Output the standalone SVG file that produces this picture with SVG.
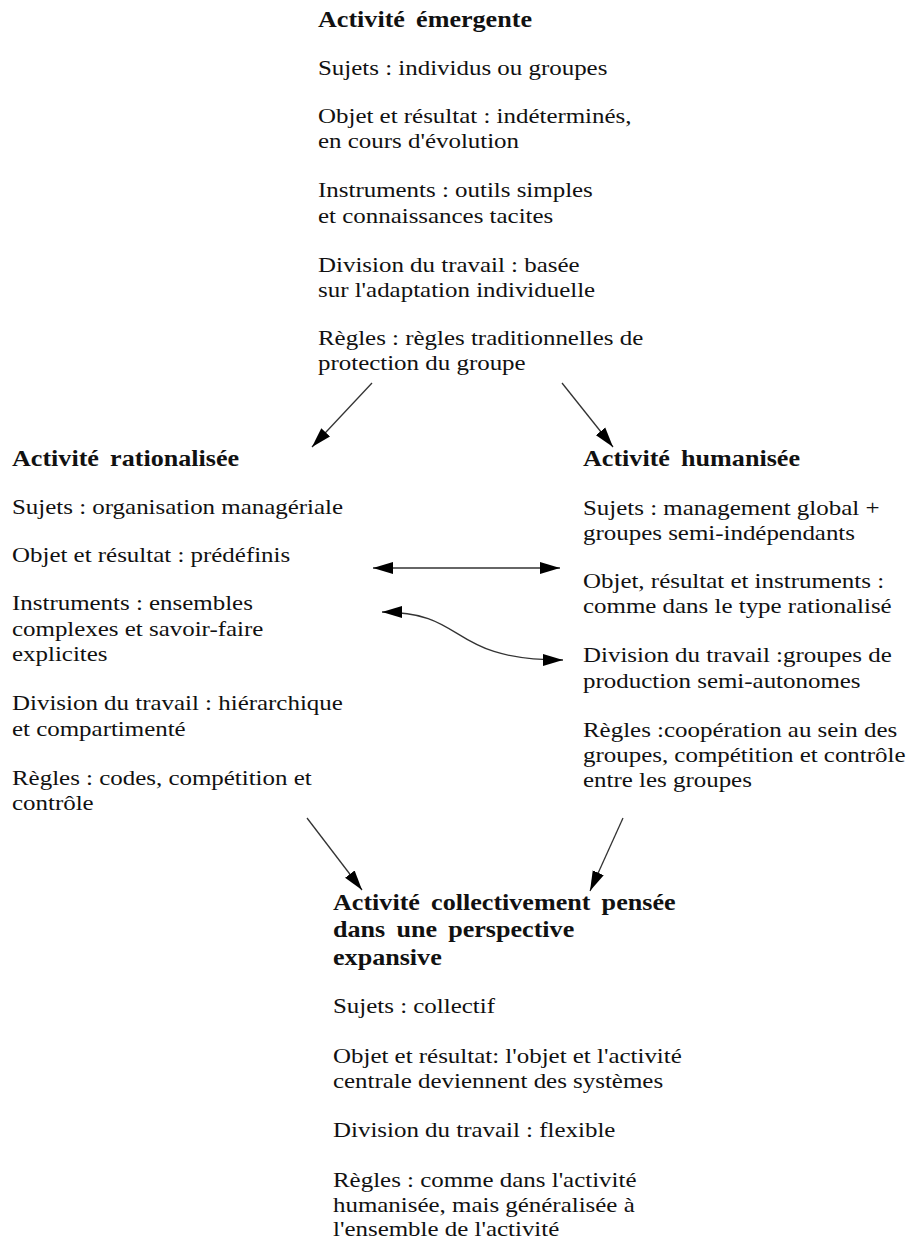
<svg xmlns="http://www.w3.org/2000/svg" width="907" height="1239" viewBox="0 0 907 1239">
<defs>
<style>
text{font-family:"Liberation Serif","Times New Roman",serif;fill:#111;}
.t{font-size:22.5px;font-weight:bold;word-spacing:4px;}
.b{font-size:21.5px;}
.c{fill:none;stroke:#333;stroke-width:1.3;}
</style>
<marker id="ah" markerUnits="userSpaceOnUse" markerWidth="21" markerHeight="13" refX="20" refY="6.5" orient="auto-start-reverse" viewBox="0 0 21 13">
<path d="M0,0.5 L20,6.5 L0,12.5 z" fill="#000"/>
</marker>
</defs>
<rect width="907" height="1239" fill="#fff"/>

<g id="emergente" transform="translate(318,0) scale(1.16,1)">
<text class="t" x="0" y="27">Activité émergente</text>
<text class="b" x="0" y="75">Sujets : individus ou groupes</text>
<text class="b" x="0" y="123">Objet et résultat : indéterminés,</text>
<text class="b" x="0" y="148">en cours d'évolution</text>
<text class="b" x="0" y="197">Instruments : outils simples</text>
<text class="b" x="0" y="223">et connaissances tacites</text>
<text class="b" x="0" y="272">Division du travail : basée</text>
<text class="b" x="0" y="297">sur l'adaptation individuelle</text>
<text class="b" x="0" y="345">Règles : règles traditionnelles de</text>
<text class="b" x="0" y="370">protection du groupe</text>
</g>

<g id="rationalisee" transform="translate(12,0) scale(1.16,1)">
<text class="t" x="0" y="466">Activité rationalisée</text>
<text class="b" x="0" y="514">Sujets : organisation managériale</text>
<text class="b" x="0" y="562">Objet et résultat : prédéfinis</text>
<text class="b" x="0" y="610">Instruments : ensembles</text>
<text class="b" x="0" y="636">complexes et savoir-faire</text>
<text class="b" x="0" y="661">explicites</text>
<text class="b" x="0" y="710">Division du travail : hiérarchique</text>
<text class="b" x="0" y="736">et compartimenté</text>
<text class="b" x="0" y="785">Règles : codes, compétition et</text>
<text class="b" x="0" y="810">contrôle</text>
</g>

<g id="humanisee" transform="translate(583,0) scale(1.16,1)">
<text class="t" x="0" y="466">Activité humanisée</text>
<text class="b" x="0" y="515">Sujets : management global +</text>
<text class="b" x="0" y="540">groupes semi-indépendants</text>
<text class="b" x="0" y="588">Objet, résultat et instruments :</text>
<text class="b" x="0" y="613">comme dans le type rationalisé</text>
<text class="b" x="0" y="662">Division du travail :groupes de</text>
<text class="b" x="0" y="688">production semi-autonomes</text>
<text class="b" x="0" y="737">Règles :coopération au sein des</text>
<text class="b" x="0" y="762">groupes, compétition et contrôle</text>
<text class="b" x="0" y="787">entre les groupes</text>
</g>

<g id="collective" transform="translate(333,0) scale(1.16,1)">
<text class="t" x="0" y="910">Activité collectivement pensée</text>
<text class="t" x="0" y="937">dans une perspective</text>
<text class="t" x="0" y="965">expansive</text>
<text class="b" x="0" y="1013">Sujets : collectif</text>
<text class="b" x="0" y="1063">Objet et résultat: l'objet et l'activité</text>
<text class="b" x="0" y="1088">centrale deviennent des systèmes</text>
<text class="b" x="0" y="1137">Division du travail : flexible</text>
<text class="b" x="0" y="1187">Règles : comme dans l'activité</text>
<text class="b" x="0" y="1212">humanisée, mais généralisée à</text>
<text class="b" x="0" y="1236">l'ensemble de l'activité</text>
</g>

<g id="connectors">
<path class="c" d="M372,383 L312,447" marker-end="url(#ah)"/>
<path class="c" d="M562,383 L613,447" marker-end="url(#ah)"/>
<path class="c" d="M373,568 L560,568" marker-start="url(#ah)" marker-end="url(#ah)"/>
<path class="c" d="M382,612 C470,612 445,660 563,660" marker-start="url(#ah)" marker-end="url(#ah)"/>
<path class="c" d="M307,818 L362,890" marker-end="url(#ah)"/>
<path class="c" d="M623,818 L590,891" marker-end="url(#ah)"/>
</g>
</svg>
